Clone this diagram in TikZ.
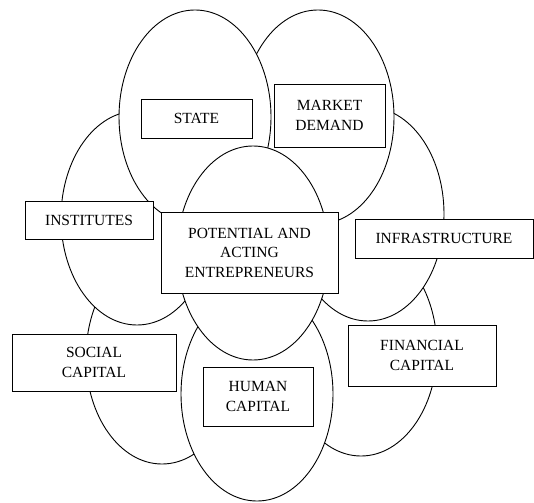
\documentclass[tikz,border=0pt]{standalone}
\usepackage{fontspec}
\setmainfont{Liberation Serif}
\usetikzlibrary{shapes.geometric}
\tikzset{
  oval/.style={draw=black, fill=white, ellipse, line width=0.9pt, inner sep=0pt,
    minimum width=152pt, minimum height=214pt},
  lbox/.style={draw=black, fill=white, rectangle, line width=0.8pt, inner sep=0pt,
    align=center, font=\fontsize{15.5}{19.5}\selectfont}
}
\begin{document}
\begin{tikzpicture}[x=1pt, y=-1pt]
\useasboundingbox (0,0) rectangle (534,502);
% ellipses, back to front
\node[oval] (social-e) at (162,357) {};
\node[oval] (financial-e) at (361,349) {};
\node[oval] (human-e) at (257,394) {};
\node[oval] (infra-e) at (368,214) {};
\node[oval] (inst-e) at (137,218) {};
\node[oval] (market-e) at (318,117) {};
\node[oval] (state-e) at (195,117) {};
\node[oval] (center-e) at (253,253) {};
% labels
\node[lbox, minimum width=111pt, minimum height=39pt] (state) at (196.5,118.5) {STATE};
\node[lbox, minimum width=111pt, minimum height=63pt] (market) at (329.5,115.5) {MARKET\\DEMAND};
\node[lbox, minimum width=128pt, minimum height=38pt] (inst) at (89,220) {INSTITUTES};
\node[lbox, minimum width=177pt, minimum height=81pt] (center) at (249.5,252.5) {POTENTIAL AND\\ACTING\\ENTREPRENEURS};
\node[lbox, minimum width=178pt, minimum height=39pt] (infra) at (444,238.5) {INFRASTRUCTURE};
\node[lbox, minimum width=164pt, minimum height=57pt] (social) at (94,362.5) {SOCIAL\\CAPITAL};
\node[lbox, minimum width=110pt, minimum height=59pt] (human) at (258,396.5) {HUMAN\\CAPITAL};
\node[lbox, minimum width=148pt, minimum height=61pt] (financial) at (422,355.5) {FINANCIAL\\CAPITAL};
\end{tikzpicture}
\end{document}
